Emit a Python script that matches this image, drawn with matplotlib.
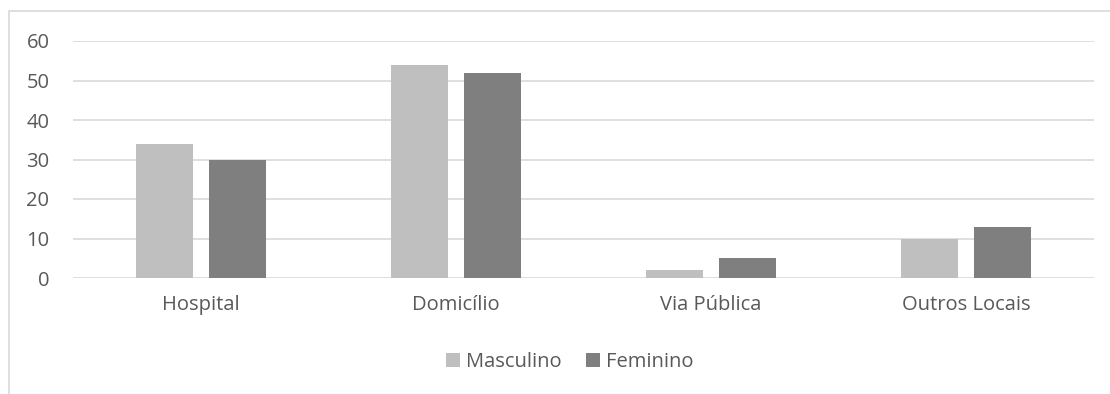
import numpy as np
from matplotlib import pyplot as plt
from matplotlib.patches import Rectangle

categories = ['Hospital', 'Domicílio', 'Via Pública', 'Outros Locais']
masculino = [34, 54, 2, 10]
feminino = [30, 52, 5, 13]
y_ticks = [0, 10, 20, 30, 40, 50, 60]

plt.rcParams['font.family'] = ['Open Sans', 'DejaVu Sans']
text_color = '#595959'
fsize = 14.5

W, H = 1110, 394
fig = plt.figure(figsize=(W / 100, H / 100), dpi=100)
ax = fig.add_axes([73 / W, 1 - 278 / H, (1094 - 73) / W, (278 - 41) / H])

# chart border
fig.patches.append(Rectangle((9 / W, -0.1), 1.2, 1 - 11 / H + 0.1, transform=fig.transFigure,
                             fill=False, edgecolor='#D9D9D9', linewidth=1.2))

x = np.arange(len(categories))
width = 0.224
ax.bar(x - 0.143, masculino, width, color='#BFBFBF', label='Masculino', zorder=2)
ax.bar(x + 0.143, feminino, width, color='#7F7F7F', label='Feminino', zorder=2)

ax.set_xlim(-0.5, len(categories) - 0.5)
ax.set_ylim(0, 60)
ax.set_yticks(y_ticks)
ax.set_xticks(x)
ax.set_xticklabels(categories)
ax.tick_params(length=0, labelsize=fsize, colors=text_color)
ax.tick_params(axis='x', pad=12)
ax.tick_params(axis='y', pad=17)
ax.yaxis.grid(True, color='#D9D9D9', linewidth=1.2, zorder=0)
for s in ax.spines.values():
    s.set_visible(False)

leg = fig.legend(loc='center', bbox_to_anchor=(570 / W, 1 - 362 / H), ncol=2, frameon=False,
                 fontsize=fsize, handlelength=0.7, handleheight=0.7, handletextpad=0.3,
                 columnspacing=1.2)
for t in leg.get_texts():
    t.set_color(text_color)

fig.savefig('out.png', dpi=100)
